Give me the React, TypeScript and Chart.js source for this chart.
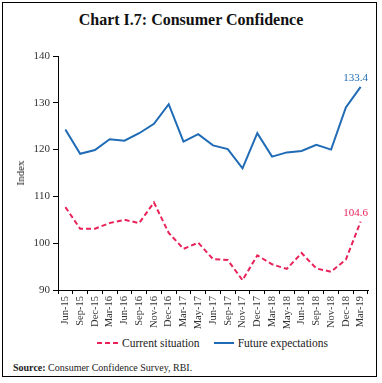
import React, { useEffect, useRef } from "react";
import { Chart, registerables } from "chart.js";

Chart.register(...registerables);

const categories = [
  "Jun-15", "Sep-15", "Dec-15", "Mar-16", "Jun-16", "Sep-16", "Nov-16", "Dec-16",
  "Mar-17", "May-17", "Jun-17", "Sep-17", "Nov-17", "Dec-17", "Mar-18", "May-18",
  "Jun-18", "Sep-18", "Nov-18", "Dec-18", "Mar-19",
];
const currentSituation = [
  107.7, 103.1, 103.1, 104.3, 105.0, 104.3, 108.7, 102.2, 98.8, 100.1, 96.6,
  96.4, 92.1, 97.4, 95.5, 94.5, 97.9, 94.6, 93.9, 96.5, 104.6,
];
const futureExpectations = [
  124.3, 119.1, 119.9, 122.2, 121.9, 123.5, 125.5, 129.7, 121.7, 123.3, 120.9,
  120.1, 116.0, 123.5, 118.5, 119.4, 119.7, 121.0, 120.0, 129.0, 133.4,
];
const yTicks = [90, 100, 110, 120, 130, 140];

const RED = "#e8235a";
const BLUE = "#1f6bb5";
const FONT = "'Liberation Serif', 'DejaVu Serif', serif";

const endLabels = {
  id: "endLabels",
  afterDatasetsDraw(chart: any) {
    const ctx = chart.ctx;
    chart.data.datasets.forEach((ds: any, i: number) => {
      const meta = chart.getDatasetMeta(i);
      const pt = meta.data[meta.data.length - 1];
      if (!pt) return;
      const v = ds.data[ds.data.length - 1];
      ctx.save();
      ctx.font = `11px ${FONT}`;
      ctx.fillStyle = ds.borderColor;
      ctx.textAlign = "center";
      ctx.textBaseline = "bottom";
      ctx.fillText(v.toFixed(1), pt.x - 5, pt.y - 3);
      ctx.restore();
    });
  },
};

function ChartCanvas() {
  const ref = useRef<HTMLCanvasElement | null>(null);
  useEffect(() => {
    if (!ref.current) return;
    const chart = new Chart(ref.current, {
      type: "line",
      data: {
        labels: categories,
        datasets: [
          {
            label: "Current situation",
            data: currentSituation,
            borderColor: RED,
            backgroundColor: RED,
            borderWidth: 2,
            borderDash: [5, 3],
            pointRadius: 0,
            tension: 0,
          },
          {
            label: "Future expectations",
            data: futureExpectations,
            borderColor: BLUE,
            backgroundColor: BLUE,
            borderWidth: 2,
            pointRadius: 0,
            tension: 0,
          },
        ],
      },
      options: {
        responsive: false,
        animation: false,
        layout: { padding: { top: 16, right: 9, left: 0, bottom: 0 } },
        plugins: {
          legend: { display: false },
          tooltip: { enabled: false },
          title: { display: false },
        },
        scales: {
          x: {
            type: "category",
            offset: true,
            grid: {
              offset: true,
              drawOnChartArea: false,
              color: "#000",
              tickColor: "#000",
              tickLength: 4,
            },
            border: { color: "#000", width: 1 },
            ticks: {
              autoSkip: false,
              maxRotation: 90,
              minRotation: 90,
              padding: 2,
              color: "#333",
              font: { family: FONT, size: 10.5 },
            },
            afterFit: (s: any) => {
              s.height = 40;
            },
          },
          y: {
            min: 90,
            max: 140,
            grid: {
              drawOnChartArea: false,
              color: "#000",
              tickColor: "#000",
              tickLength: 5,
            },
            border: { color: "#000", width: 1 },
            ticks: {
              padding: 3,
              color: "#333",
              font: { family: FONT, size: 11 },
            },
            afterBuildTicks: (s: any) => {
              s.ticks = yTicks.map((v) => ({ value: v }));
            },
            afterFit: (s: any) => {
              s.width = 55;
            },
          },
        },
      },
      plugins: [endLabels],
    } as any);
    return () => chart.destroy();
  }, []);
  return <canvas ref={ref} width={374} height={290} />;
}

export default function App() {
  return (
    <div
      style={{
        position: "absolute",
        left: 0,
        top: 0,
        width: 382,
        height: 383,
        background: "#fff",
        fontFamily: FONT,
        color: "#222",
      }}
    >
      <div
        style={{
          position: "absolute",
          left: 2,
          top: 2,
          width: 375,
          height: 375,
          border: "1px solid #000",
          boxSizing: "border-box",
        }}
      />
      <div
        style={{
          position: "absolute",
          left: 0,
          top: 11,
          width: 382,
          textAlign: "center",
          fontWeight: "bold",
          fontSize: 16,
          lineHeight: "18px",
          color: "#111",
        }}
      >
        Chart I.7: Consumer Confidence
      </div>
      <div style={{ position: "absolute", left: 3, top: 40, width: 374, height: 290 }}>
        <ChartCanvas />
      </div>
      <div
        style={{
          position: "absolute",
          left: 20,
          top: 173,
          fontSize: 11,
          transform: "translate(-50%, -50%) rotate(-90deg)",
          whiteSpace: "nowrap",
          color: "#222",
        }}
      >
        Index
      </div>
      <div
        style={{
          position: "absolute",
          left: 97,
          top: 336,
          height: 14,
          display: "flex",
          alignItems: "center",
          fontSize: 11.5,
          whiteSpace: "nowrap",
          color: "#222",
        }}
      >
        <svg width={22} height={4} style={{ marginRight: 3 }}>
          <line x1={0} y1={2} x2={22} y2={2} stroke={RED} strokeWidth={2} strokeDasharray="5,3" />
        </svg>
        <span>Current situation</span>
        <svg width={20} height={4} style={{ marginLeft: 14, marginRight: 4 }}>
          <line x1={0} y1={2} x2={20} y2={2} stroke={BLUE} strokeWidth={2} />
        </svg>
        <span>Future expectations</span>
      </div>
      <div
        style={{
          position: "absolute",
          left: 13,
          top: 362,
          fontSize: 10,
          whiteSpace: "nowrap",
          color: "#222",
        }}
      >
        <b>Source:</b> Consumer Confidence Survey, RBI.
      </div>
    </div>
  );
}
